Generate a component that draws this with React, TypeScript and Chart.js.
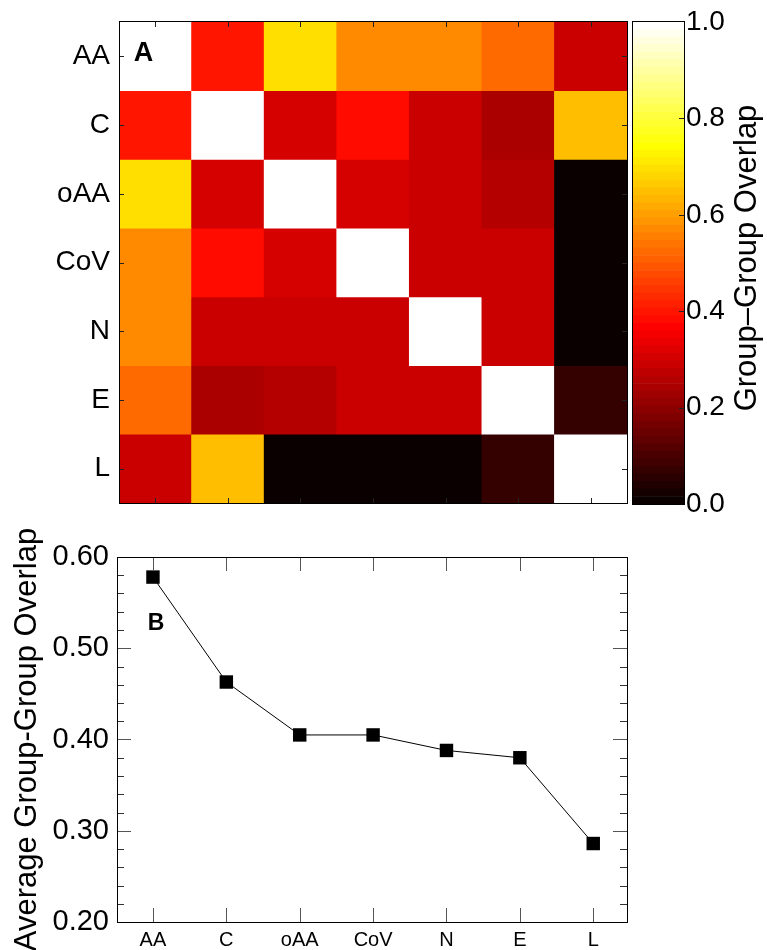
import React, { useEffect, useRef } from "react";
import { Chart, registerables } from "chart.js";

Chart.register(...registerables);

const FAMILY = "'Liberation Sans', Arial, Helvetica, sans-serif";

// ---- data ----
const groups = ["AA", "C", "oAA", "CoV", "N", "E", "L"];
const rowAA = [1.0, 0.398, 0.695, 0.57, 0.57, 0.523, 0.29];
const rowC = [0.398, 1.0, 0.305, 0.383, 0.29, 0.242, 0.65];
const rowOAA = [0.695, 0.305, 1.0, 0.305, 0.29, 0.258, 0.008];
const rowCoV = [0.57, 0.383, 0.305, 1.0, 0.29, 0.29, 0.008];
const rowN = [0.57, 0.29, 0.29, 0.29, 1.0, 0.29, 0.008];
const rowE = [0.523, 0.242, 0.258, 0.29, 0.29, 1.0, 0.07];
const rowL = [0.29, 0.65, 0.008, 0.008, 0.008, 0.07, 1.0];
const overlapRows = [rowAA, rowC, rowOAA, rowCoV, rowN, rowE, rowL];

const averageOverlap = [0.578, 0.463, 0.405, 0.405, 0.388, 0.38, 0.286];

const colorbarTicks = [0, 0.2, 0.4, 0.6, 0.8, 1.0];
const averageTicks = [0.2, 0.3, 0.4, 0.5, 0.6];
const averageMinorTicks = [0.22, 0.24, 0.26, 0.28, 0.32, 0.34, 0.36, 0.38, 0.42, 0.44, 0.46, 0.48, 0.52, 0.54, 0.56, 0.58];

const heatTitle = "A";
const lineTitle = "B";
const colorbarTitle = "Group\u2013Group Overlap";
const averageTitle = "Average Group-Group Overlap";

// ---- hot colormap (64 levels) ----
const HOT_LEVELS = 64;
function hotColor(k: number) {
  const n = 24;
  const clamp = (x: number) => Math.min(1, Math.max(0, x));
  const r = clamp((k + 1) / n);
  const g = clamp((k + 1 - n) / n);
  const b = clamp((k + 1 - 2 * n) / (HOT_LEVELS - 2 * n));
  return `rgb(${Math.round(r * 255)},${Math.round(g * 255)},${Math.round(b * 255)})`;
}
function valueColor(v: number) {
  const k = Math.min(HOT_LEVELS - 1, Math.max(0, Math.floor(v * HOT_LEVELS)));
  return hotColor(k);
}
const colorbarLevels = Array.from({ length: HOT_LEVELS }, (_, k) => k);

function line(ctx: any, x1: number, y1: number, x2: number, y2: number) {
  ctx.beginPath();
  ctx.moveTo(x1, y1);
  ctx.lineTo(x2, y2);
  ctx.stroke();
}

function noScalePadding(s: any) {
  s.paddingTop = 0;
  s.paddingBottom = 0;
  s.paddingLeft = 0;
  s.paddingRight = 0;
}

const heatPlugin = {
  id: "heatDecor",
  afterDraw(chart: any) {
    const { ctx, chartArea: a, scales } = chart;
    ctx.save();
    ctx.strokeStyle = "#222";
    ctx.lineWidth = 1;
    const L = 5;
    groups.forEach((_, j) => {
      const x = Math.round(scales.x.getPixelForValue(j)) + 0.5;
      line(ctx, x, a.top, x, a.top + L);
      line(ctx, x, a.bottom, x, a.bottom - L);
    });
    groups.forEach((_, i) => {
      const y = Math.round(scales.y.getPixelForValue(i + 0.5)) + 0.5;
      line(ctx, a.left, y, a.left + L, y);
      line(ctx, a.right, y, a.right - L, y);
    });
    ctx.strokeStyle = "#000";
    ctx.strokeRect(Math.round(a.left) + 0.5, Math.round(a.top) - 0.5, Math.round(a.right - a.left), Math.round(a.bottom - a.top) + 1);
    ctx.fillStyle = "#000";
    ctx.font = `bold 27px ${FAMILY}`;
    ctx.textAlign = "center";
    ctx.textBaseline = "alphabetic";
    ctx.fillText(heatTitle, 143.5, 60.5);
    ctx.restore();
  },
};

const colorbarPlugin = {
  id: "colorbarDecor",
  afterDraw(chart: any) {
    const { ctx, chartArea: a, scales } = chart;
    ctx.save();
    ctx.strokeStyle = "#222";
    ctx.lineWidth = 1;
    colorbarTicks.slice(1, -1).forEach((v) => {
      const y = Math.round(scales.y.getPixelForValue(v)) + 0.5;
      line(ctx, a.right, y, a.right - 5, y);
    });
    ctx.strokeStyle = "#000";
    ctx.strokeRect(Math.round(a.left) + 0.5, Math.round(a.top) - 0.5, Math.round(a.right - a.left), Math.round(a.bottom - a.top) + 1);
    ctx.translate(117, 258);
    ctx.rotate(-Math.PI / 2);
    ctx.fillStyle = "#000";
    ctx.font = `31px ${FAMILY}`;
    ctx.textAlign = "center";
    ctx.textBaseline = "middle";
    ctx.fillText(colorbarTitle, 0, 0);
    ctx.restore();
  },
};

const linePlugin = {
  id: "lineDecor",
  afterDraw(chart: any) {
    const { ctx, chartArea: a, scales } = chart;
    ctx.save();
    ctx.strokeStyle = "#555";
    ctx.lineWidth = 1;
    const MAJ = 14;
    const MIN = 7;
    groups.forEach((_, j) => {
      const x = Math.round(scales.x.getPixelForValue(j)) + 0.5;
      line(ctx, x, a.top, x, a.top + MAJ);
      line(ctx, x, a.bottom, x, a.bottom - MAJ);
    });
    averageTicks.forEach((v) => {
      const y = Math.round(scales.y.getPixelForValue(v)) + 0.5;
      line(ctx, a.left, y, a.left + MAJ, y);
      line(ctx, a.right, y, a.right - MAJ, y);
    });
    ctx.strokeStyle = "#333";
    averageMinorTicks.forEach((v) => {
      const y = Math.round(scales.y.getPixelForValue(v)) + 0.5;
      line(ctx, a.left, y, a.left + MIN, y);
      line(ctx, a.right, y, a.right - MIN, y);
    });
    ctx.strokeStyle = "#000";
    ctx.strokeRect(Math.round(a.left) + 0.5, Math.round(a.top) + 0.5, Math.round(a.right - a.left), Math.round(a.bottom - a.top));
    ctx.fillStyle = "#000";
    ctx.font = `bold 23px ${FAMILY}`;
    ctx.textAlign = "center";
    ctx.textBaseline = "alphabetic";
    ctx.fillText(lineTitle, 156, 110);
    ctx.restore();
  },
};

export default function App() {
  const heatRef = useRef<HTMLCanvasElement | null>(null);
  const barRef = useRef<HTMLCanvasElement | null>(null);
  const lineRef = useRef<HTMLCanvasElement | null>(null);

  useEffect(() => {
    const charts: any[] = [];

    charts.push(
      new Chart(heatRef.current as any, {
        type: "bar",
        data: {
          labels: groups,
          datasets: overlapRows.map((row, i) => ({
            label: groups[i],
            data: row.map(() => 1),
            backgroundColor: row.map(valueColor),
            borderWidth: 0,
            categoryPercentage: 1,
            barPercentage: 1,
          })),
        },
        options: {
          animation: false,
          responsive: false,
          events: [],
          layout: { padding: { top: 22, right: 3, bottom: 17, left: 0 } },
          plugins: { legend: { display: false }, tooltip: { enabled: false } },
          scales: {
            x: { type: "category", stacked: true, display: false, afterFit: noScalePadding },
            y: {
              type: "linear",
              stacked: true,
              reverse: true,
              min: 0,
              max: 7,
              afterBuildTicks: (s: any) => {
                s.ticks = groups.map((_, i) => ({ value: i + 0.5 }));
              },
              afterFit: (s: any) => {
                s.width = 119;
                noScalePadding(s);
              },
              grid: { display: false, drawTicks: false },
              border: { display: false },
              ticks: {
                autoSkip: false,
                padding: 9,
                color: "#000",
                font: { family: FAMILY, size: 28 },
                callback: (v: any) => groups[Math.floor(Number(v))],
              },
            },
          },
        } as any,
        plugins: [heatPlugin],
      })
    );

    charts.push(
      new Chart(barRef.current as any, {
        type: "bar",
        data: {
          labels: [""],
          datasets: colorbarLevels.map((k) => ({
            data: [1 / HOT_LEVELS],
            backgroundColor: hotColor(k),
            borderWidth: 0,
            categoryPercentage: 1,
            barPercentage: 1,
          })),
        },
        options: {
          animation: false,
          responsive: false,
          events: [],
          layout: { padding: { top: 22, right: 0, bottom: 16, left: 2 } },
          plugins: { legend: { display: false }, tooltip: { enabled: false } },
          scales: {
            x: { type: "category", stacked: true, display: false, afterFit: noScalePadding },
            y: {
              type: "linear",
              position: "right",
              stacked: true,
              min: 0,
              max: 1,
              afterBuildTicks: (s: any) => {
                s.ticks = colorbarTicks.map((v) => ({ value: v }));
              },
              afterFit: (s: any) => {
                s.width = 83;
                noScalePadding(s);
              },
              grid: { display: false, drawTicks: false },
              border: { display: false },
              ticks: {
                autoSkip: false,
                padding: 2,
                color: "#000",
                font: { family: FAMILY, size: 28 },
                callback: (v: any) => Number(v).toFixed(1),
              },
            },
          },
        } as any,
        plugins: [colorbarPlugin],
      })
    );

    charts.push(
      new Chart(lineRef.current as any, {
        type: "line",
        data: {
          datasets: [
            {
              data: averageOverlap.map((v, i) => ({ x: i, y: v })),
              borderColor: "#000",
              borderWidth: 1,
              tension: 0,
              pointStyle: "rect",
              pointRadius: 9.5,
              pointBackgroundColor: "#000",
              pointBorderColor: "#000",
              pointBorderWidth: 0,
              clip: false,
            },
          ],
        },
        options: {
          animation: false,
          responsive: false,
          events: [],
          layout: { padding: { top: 37, right: 13, bottom: 0, left: 0 } },
          plugins: { legend: { display: false }, tooltip: { enabled: false } },
          scales: {
            x: {
              type: "linear",
              min: -0.49,
              max: 6.46,
              afterBuildTicks: (s: any) => {
                s.ticks = groups.map((_, i) => ({ value: i }));
              },
              afterFit: (s: any) => {
                s.height = 28;
                noScalePadding(s);
              },
              grid: { display: false, drawTicks: false },
              border: { display: false },
              ticks: {
                autoSkip: false,
                maxRotation: 0,
                padding: 6,
                color: "#000",
                font: { family: FAMILY, size: 20 },
                callback: (v: any) => groups[Math.round(Number(v))],
              },
            },
            y: {
              type: "linear",
              min: 0.2,
              max: 0.6,
              afterBuildTicks: (s: any) => {
                s.ticks = averageTicks.map((v) => ({ value: v }));
              },
              afterFit: (s: any) => {
                s.width = 117;
                noScalePadding(s);
              },
              grid: { display: false, drawTicks: false },
              border: { display: false },
              ticks: {
                autoSkip: false,
                padding: 8,
                color: "#000",
                font: { family: FAMILY, size: 29 },
                callback: (v: any) => Number(v).toFixed(2),
              },
              title: {
                display: true,
                text: averageTitle,
                color: "#000",
                font: { family: FAMILY, size: 31 },
                padding: { top: 9, bottom: 0 },
              },
            },
          },
        } as any,
        plugins: [linePlugin],
      })
    );

    return () => charts.forEach((c) => c.destroy());
  }, []);

  return (
    <div
      style={{
        position: "absolute",
        left: 0,
        top: 0,
        width: 767,
        height: 950,
        overflow: "hidden",
        background: "#fff",
      }}
    >
      <canvas ref={heatRef} width={630} height={520} style={{ position: "absolute", left: 0, top: 0 }} />
      <canvas ref={barRef} width={137} height={520} style={{ position: "absolute", left: 630, top: 0 }} />
      <canvas ref={lineRef} width={640} height={430} style={{ position: "absolute", left: 0, top: 520 }} />
    </div>
  );
}
